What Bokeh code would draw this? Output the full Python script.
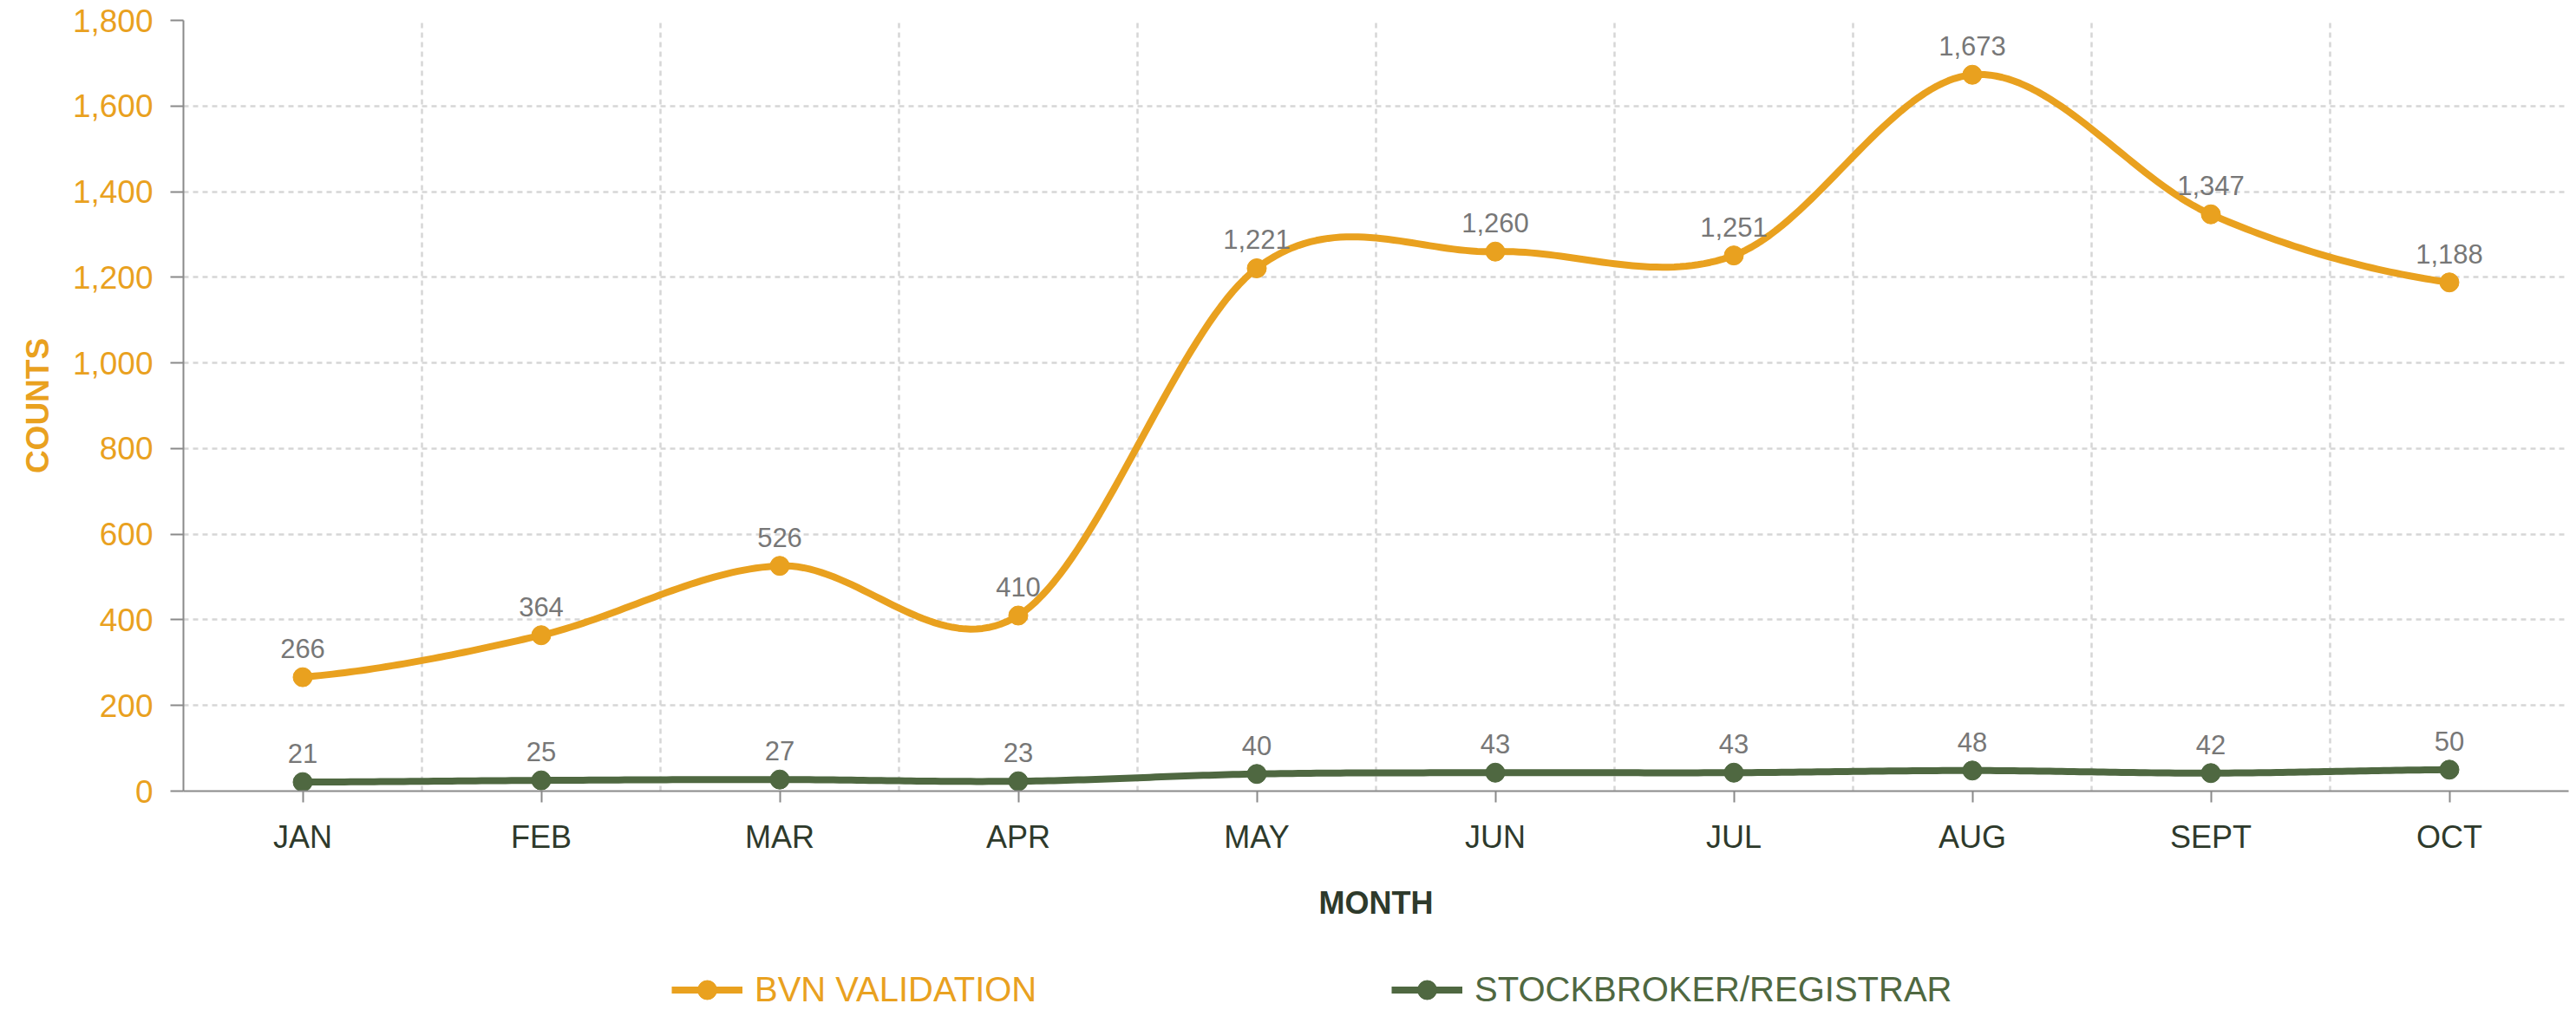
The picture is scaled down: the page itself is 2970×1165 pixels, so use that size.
from bokeh.plotting import figure
from bokeh.layouts import column
from bokeh.models import (ColumnDataSource, FixedTicker, NumeralTickFormatter,
                          Legend, LegendItem, Range1d)
from bokeh.embed import file_html
from bokeh.resources import INLINE
from bokeh.core.properties import value

# ---------------- data ----------------
months = ["JAN", "FEB", "MAR", "APR", "MAY", "JUN", "JUL", "AUG", "SEPT", "OCT"]
bvn_validation = [266, 364, 526, 410, 1221, 1260, 1251, 1673, 1347, 1188]
stockbroker_registrar = [21, 25, 27, 23, 40, 43, 43, 48, 42, 50]
y_ticks = [0, 200, 400, 600, 800, 1000, 1200, 1400, 1600, 1800]
series_names = ["BVN VALIDATION", "STOCKBROKER/REGISTRAR"]

ORANGE = "#E9A11F"
GREEN = "#4F6841"
DARK = "#2E3A2B"
LABEL_GREY = "#777777"
AXIS_GREY = "#8A8A8A"
GRID = "#D6D6D6"
FONT = "Liberation Sans"

x_pos = [i + 0.5 for i in range(len(months))]


def smooth(xs, ys, n=40):
    """Catmull-Rom rendering of the line through the data points."""
    sx, sy = [], []
    m = len(ys)
    for i in range(m - 1):
        p0 = ys[i - 1] if i > 0 else ys[i]
        p1, p2 = ys[i], ys[i + 1]
        p3 = ys[i + 2] if i + 2 < m else ys[i + 1]
        m1 = (p2 - p0) / 2.0
        m2 = (p3 - p1) / 2.0
        for k in range(n):
            t = k / n
            h00 = 2 * t**3 - 3 * t**2 + 1
            h10 = t**3 - 2 * t**2 + t
            h01 = -2 * t**3 + 3 * t**2
            h11 = t**3 - t**2
            sx.append(xs[i] + t * (xs[i + 1] - xs[i]))
            sy.append(h00 * p1 + h10 * m1 + h01 * p2 + h11 * m2)
    sx.append(xs[-1])
    sy.append(ys[-1])
    return sx, sy


p = figure(width=2970, height=1090, output_backend="svg", toolbar_location=None,
           x_range=Range1d(0, len(months)), y_range=Range1d(0, 1800),
           min_border_left=211, min_border_right=9, min_border_top=23,
           min_border_bottom=178)
p.outline_line_color = None
p.background_fill_color = "white"
p.border_fill_color = "white"

# grids
p.ygrid.ticker = FixedTicker(ticks=y_ticks)
p.xgrid.ticker = FixedTicker(ticks=list(range(len(months) + 1)))
for g in (p.xgrid, p.ygrid):
    g.grid_line_color = GRID
    g.grid_line_width = 2.5
    g.grid_line_dash = "6 5"

# y axis
ya = p.yaxis[0]
ya.ticker = FixedTicker(ticks=y_ticks)
ya.formatter = NumeralTickFormatter(format="0,0")
ya.axis_label = "COUNTS"
ya.axis_label_text_font = FONT
ya.axis_label_text_font_size = "37px"
ya.axis_label_text_font_style = "bold"
ya.axis_label_text_color = ORANGE
ya.axis_label_standoff = 17
ya.major_label_text_font = FONT
ya.major_label_text_font_size = "37px"
ya.major_label_text_color = ORANGE
ya.major_label_standoff = 20
ya.major_tick_out = 15
ya.major_tick_in = 0
ya.minor_tick_out = 0
ya.minor_tick_in = 0
ya.axis_line_color = AXIS_GREY
ya.axis_line_width = 2
ya.major_tick_line_color = AXIS_GREY
ya.major_tick_line_width = 2

# x axis
xa = p.xaxis[0]
xa.ticker = FixedTicker(ticks=x_pos)
xa.major_label_overrides = {x: m for x, m in zip(x_pos, months)}
xa.axis_label = "MONTH"
xa.axis_label_text_font = FONT
xa.axis_label_text_font_size = "36px"
xa.axis_label_text_font_style = "bold"
xa.axis_label_text_color = DARK
xa.axis_label_standoff = 32
xa.major_label_text_font = FONT
xa.major_label_text_font_size = "36px"
xa.major_label_text_color = DARK
xa.major_label_standoff = 19
xa.major_tick_out = 13
xa.major_tick_in = 0
xa.minor_tick_out = 0
xa.minor_tick_in = 0
xa.axis_line_color = AXIS_GREY
xa.axis_line_width = 2
xa.major_tick_line_color = AXIS_GREY
xa.major_tick_line_width = 2

# series
gx, gy = smooth(x_pos, stockbroker_registrar)
bx, by = smooth(x_pos, bvn_validation)

p.line(gx, gy, line_color=GREEN, line_width=8, line_join="round")
p.scatter(x_pos, stockbroker_registrar, size=22, fill_color=GREEN, line_color=GREEN)
p.line(bx, by, line_color=ORANGE, line_width=8, line_join="round")
p.scatter(x_pos, bvn_validation, size=22, fill_color=ORANGE, line_color=ORANGE)

# data labels
for vals in (bvn_validation, stockbroker_registrar):
    src = ColumnDataSource(dict(x=x_pos, y=vals, t=[f"{v:,}" for v in vals]))
    p.text(x="x", y="y", text="t", source=src, text_align="center",
           text_baseline="alphabetic", y_offset=-33,
           text_font=value(FONT), text_font_size="31px",
           text_color=LABEL_GREY)

# ---------------- legend strip below the chart ----------------
lg = figure(width=2970, height=75, output_backend="svg", toolbar_location=None,
            x_range=Range1d(0, 1), y_range=Range1d(0, 1),
            min_border=0, x_axis_type=None, y_axis_type=None)
lg.outline_line_color = None
lg.grid.visible = False
lg.background_fill_color = "white"
lg.border_fill_color = "white"

# off-range swatch renderers (only used to draw the legend symbols)
swatches = []
for col in (ORANGE, GREEN):
    r_line = lg.line([-5, -4], [-5, -5], line_color=col, line_width=8)
    r_pt = lg.scatter([-5], [-5], size=22, fill_color=col, line_color=col)
    swatches.append([r_line, r_pt])


def make_legend(label, renderers, color, x):
    leg = Legend(items=[LegendItem(label=label, renderers=renderers)],
                 location=(x, -4), orientation="horizontal",
                 glyph_width=82, glyph_height=55, label_standoff=14,
                 label_text_font=FONT, label_text_font_size="40px",
                 label_text_color=color, padding=0, margin=0, spacing=0,
                 border_line_color=None, background_fill_alpha=0)
    lg.add_layout(leg)


make_legend(series_names[0], swatches[0], ORANGE, 563)
make_legend(series_names[1], swatches[1], GREEN, 1393)

layout = column(p, lg, spacing=0)
open("out.html", "w").write(file_html(layout, INLINE))
